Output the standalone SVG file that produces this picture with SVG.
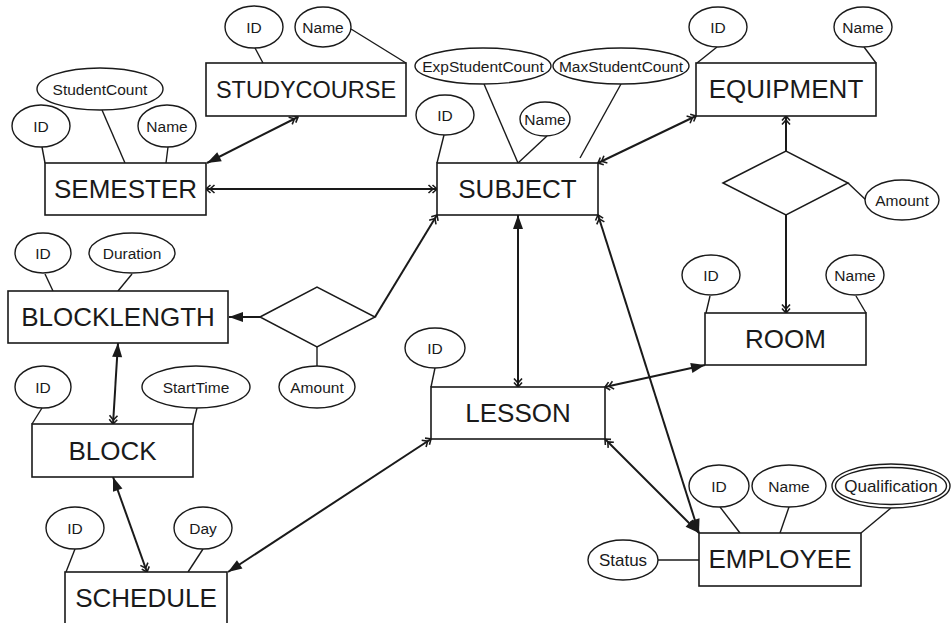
<svg xmlns="http://www.w3.org/2000/svg" width="952" height="623" viewBox="0 0 952 623">
  <style>
    .ent rect { fill: #ffffff; stroke: #1a1a1a; stroke-width: 1.6; }
    .ent text { font-family: "Liberation Sans", Arial, sans-serif; font-size: 26px; fill: #1a1a1a; text-anchor: middle; }
    .att ellipse { fill: #ffffff; stroke: #1a1a1a; stroke-width: 1.4; }
    .att text { font-family: "Liberation Sans", Arial, sans-serif; font-size: 15.5px; fill: #1a1a1a; text-anchor: middle; }
    .att line { stroke: #1a1a1a; stroke-width: 1.4; }
    .rel polygon { fill: #ffffff; stroke: #1a1a1a; stroke-width: 1.5; }
    #connectors line { stroke: #1a1a1a; stroke-width: 2; fill: none; }
    #connectors line.plain { stroke-width: 1.4; }
  </style>
  <defs>
    <!-- filled triangular head -->
    <marker id="big" markerUnits="userSpaceOnUse" markerWidth="16" markerHeight="12" viewBox="-15 -6 16 12" refX="0" refY="0" orient="auto-start-reverse">
      <path d="M0,0 L-14,-5 L-14,5 z" fill="#1a1a1a"/>
    </marker>
    <!-- small double chevron head -->
    <marker id="small" markerUnits="userSpaceOnUse" markerWidth="14" markerHeight="12" viewBox="-12 -6 14 12" refX="0" refY="0" orient="auto-start-reverse">
      <path d="M-4.5,-4 L0,0 L-4.5,4 M-8.5,-4 L-4,0 L-8.5,4" fill="none" stroke="#1a1a1a" stroke-width="1.6"/>
    </marker>
  </defs>

  <rect width="952" height="623" fill="#ffffff"/>

  <!-- connectors between entities and relationships -->
  <g id="connectors">
    <line x1="298" y1="117" x2="207" y2="163" marker-start="url(#small)" marker-end="url(#big)"/>
    <line x1="206" y1="189" x2="437" y2="189" marker-start="url(#small)" marker-end="url(#small)"/>
    <line x1="598" y1="163" x2="696" y2="116" marker-start="url(#small)" marker-end="url(#small)"/>
    <line x1="786" y1="151" x2="786" y2="116" marker-end="url(#small)"/>
    <line x1="786" y1="215" x2="786" y2="313" marker-end="url(#small)"/>
    <line x1="260" y1="317" x2="229" y2="317" marker-end="url(#big)"/>
    <line x1="375" y1="317" x2="437" y2="215" marker-end="url(#small)"/>
    <line x1="518" y1="387" x2="518" y2="215" marker-start="url(#small)" marker-end="url(#big)"/>
    <line x1="598" y1="215" x2="699" y2="533" marker-start="url(#small)" marker-end="url(#big)"/>
    <line x1="605" y1="387" x2="705" y2="365" marker-start="url(#small)" marker-end="url(#big)"/>
    <line x1="605" y1="439" x2="699" y2="533" marker-start="url(#small)" marker-end="url(#big)"/>
    <line x1="113" y1="424" x2="118" y2="343" marker-start="url(#small)" marker-end="url(#big)"/>
    <line x1="147" y1="572" x2="113" y2="477" marker-start="url(#small)" marker-end="url(#big)"/>
    <line x1="431" y1="439" x2="228" y2="572" marker-start="url(#small)" marker-end="url(#big)"/>
  </g>

  <!-- relationship: EQUIPMENT - ROOM, with its Amount attribute -->
  <g id="rel-equipment-room">
    <g class="att">
      <line x1="848" y1="183" x2="867" y2="201"/>
      <ellipse cx="902" cy="200" rx="37" ry="20"/>
      <text x="902" y="205.5">Amount</text>
    </g>
    <g class="rel">
      <polygon points="723,183 786,151 848,183 786,215"/>
    </g>
  </g>

  <!-- relationship: SUBJECT - BLOCKLENGTH, with its Amount attribute -->
  <g id="rel-subject-blocklength">
    <g class="att">
      <line x1="317" y1="347" x2="317" y2="366"/>
      <ellipse cx="317" cy="387" rx="38" ry="21"/>
      <text x="317" y="392.5">Amount</text>
    </g>
    <g class="rel">
      <polygon points="260,317 317,287 375,317 317,347"/>
    </g>
  </g>

  <!-- STUDYCOURSE -->
  <g id="studycourse">
    <g class="att">
      <line x1="255" y1="48" x2="263" y2="63"/>
      <line x1="351" y1="29" x2="406" y2="63"/>
      <ellipse cx="254" cy="27" rx="29" ry="21"/>
      <text x="254" y="32.5">ID</text>
      <ellipse cx="323" cy="27" rx="28" ry="20"/>
      <text x="323" y="32.5">Name</text>
    </g>
    <g class="ent">
      <rect x="206" y="63" width="200" height="53"/>
      <text x="306" y="98" style="font-size:23.5px">STUDYCOURSE</text>
    </g>
  </g>

  <!-- SEMESTER -->
  <g id="semester">
    <g class="att">
      <line x1="42" y1="147" x2="45" y2="163"/>
      <line x1="102" y1="110" x2="125" y2="163"/>
      <line x1="168" y1="147" x2="166" y2="163"/>
      <ellipse cx="100" cy="89" rx="63" ry="21"/>
      <text x="100" y="94.5">StudentCount</text>
      <ellipse cx="41" cy="126" rx="29" ry="21"/>
      <text x="41" y="131.5">ID</text>
      <ellipse cx="167" cy="126" rx="29" ry="21"/>
      <text x="167" y="131.5">Name</text>
    </g>
    <g class="ent">
      <rect x="45" y="163" width="161" height="52"/>
      <text x="125.5" y="198">SEMESTER</text>
    </g>
  </g>

  <!-- SUBJECT -->
  <g id="subject">
    <g class="att">
      <line x1="444" y1="135" x2="437" y2="163"/>
      <line x1="484" y1="84" x2="518" y2="163"/>
      <line x1="547" y1="136" x2="518" y2="163"/>
      <line x1="621" y1="84" x2="580" y2="158"/>
      <ellipse cx="483" cy="66" rx="68" ry="18"/>
      <text x="483" y="71.5">ExpStudentCount</text>
      <ellipse cx="621" cy="66" rx="68" ry="18"/>
      <text x="621" y="71.5">MaxStudentCount</text>
      <ellipse cx="445" cy="115" rx="29" ry="20"/>
      <text x="445" y="120.5">ID</text>
      <ellipse cx="545" cy="119" rx="25" ry="17"/>
      <text x="545" y="124.5">Name</text>
    </g>
    <g class="ent">
      <rect x="437" y="163" width="161" height="52"/>
      <text x="517.5" y="198">SUBJECT</text>
    </g>
  </g>

  <!-- EQUIPMENT -->
  <g id="equipment">
    <g class="att">
      <line x1="717" y1="47" x2="697" y2="63"/>
      <line x1="864" y1="47" x2="876" y2="63"/>
      <ellipse cx="718" cy="27" rx="29" ry="20"/>
      <text x="718" y="32.5">ID</text>
      <ellipse cx="863" cy="27" rx="29" ry="20"/>
      <text x="863" y="32.5">Name</text>
    </g>
    <g class="ent">
      <rect x="696" y="63" width="180" height="53"/>
      <text x="786" y="98">EQUIPMENT</text>
    </g>
  </g>

  <!-- BLOCKLENGTH -->
  <g id="blocklength">
    <g class="att">
      <line x1="45" y1="274" x2="53" y2="291"/>
      <line x1="132" y1="274" x2="118" y2="291"/>
      <ellipse cx="43" cy="253" rx="28" ry="20"/>
      <text x="43" y="258.5">ID</text>
      <ellipse cx="132" cy="253" rx="43" ry="20"/>
      <text x="132" y="258.5">Duration</text>
    </g>
    <g class="ent">
      <rect x="8" y="291" width="220" height="52"/>
      <text x="118" y="326">BLOCKLENGTH</text>
    </g>
  </g>

  <!-- ROOM -->
  <g id="room">
    <g class="att">
      <line x1="710" y1="296" x2="706" y2="313"/>
      <line x1="856" y1="296" x2="866" y2="313"/>
      <ellipse cx="711" cy="275" rx="29" ry="20"/>
      <text x="711" y="280.5">ID</text>
      <ellipse cx="855" cy="275" rx="29" ry="20"/>
      <text x="855" y="280.5">Name</text>
    </g>
    <g class="ent">
      <rect x="705" y="313" width="161" height="52"/>
      <text x="785.5" y="348">ROOM</text>
    </g>
  </g>

  <!-- LESSON -->
  <g id="lesson">
    <g class="att">
      <line x1="435" y1="368" x2="431" y2="387"/>
      <ellipse cx="435" cy="348" rx="30" ry="20"/>
      <text x="435" y="353.5">ID</text>
    </g>
    <g class="ent">
      <rect x="431" y="387" width="174" height="52"/>
      <text x="518" y="422">LESSON</text>
    </g>
  </g>

  <!-- BLOCK -->
  <g id="block">
    <g class="att">
      <line x1="42" y1="408" x2="32" y2="424"/>
      <line x1="197" y1="408" x2="193" y2="424"/>
      <ellipse cx="43" cy="387" rx="28" ry="21"/>
      <text x="43" y="392.5">ID</text>
      <ellipse cx="196" cy="387" rx="54" ry="21"/>
      <text x="196" y="392.5">StartTime</text>
    </g>
    <g class="ent">
      <rect x="32" y="424" width="161" height="53"/>
      <text x="112.5" y="459.5">BLOCK</text>
    </g>
  </g>

  <!-- SCHEDULE -->
  <g id="schedule">
    <g class="att">
      <line x1="75" y1="549" x2="66" y2="572"/>
      <line x1="203" y1="549" x2="188" y2="572"/>
      <ellipse cx="75" cy="528" rx="29" ry="21"/>
      <text x="75" y="533.5">ID</text>
      <ellipse cx="203" cy="528" rx="29" ry="21"/>
      <text x="203" y="533.5">Day</text>
    </g>
    <g class="ent">
      <rect x="65" y="572" width="162" height="53"/>
      <text x="146" y="607">SCHEDULE</text>
    </g>
  </g>

  <!-- EMPLOYEE -->
  <g id="employee">
    <g class="att">
      <line x1="720" y1="507" x2="740" y2="533"/>
      <line x1="789" y1="507" x2="780" y2="533"/>
      <line x1="891" y1="508" x2="861" y2="533"/>
      <line x1="658" y1="560" x2="699" y2="560"/>
      <ellipse cx="719" cy="486" rx="30" ry="21"/>
      <text x="719" y="491.5">ID</text>
      <ellipse cx="789" cy="486" rx="37" ry="21"/>
      <text x="789" y="491.5">Name</text>
      <ellipse cx="891" cy="486" rx="59" ry="22"/>
      <ellipse cx="891" cy="486" rx="55.5" ry="18.5"/>
      <text x="891" y="492" style="font-size:17px">Qualification</text>
      <ellipse cx="623" cy="560" rx="35" ry="20"/>
      <text x="623" y="566" style="font-size:17px">Status</text>
    </g>
    <g class="ent">
      <rect x="699" y="533" width="162" height="53"/>
      <text x="780" y="568">EMPLOYEE</text>
    </g>
  </g>
</svg>
